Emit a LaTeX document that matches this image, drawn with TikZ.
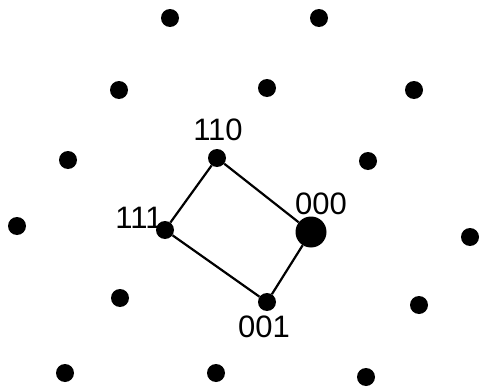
\documentclass[tikz,border=0pt]{standalone}
\usepackage{fontspec}
\setmainfont{Liberation Sans}
\usepackage{tikz}
\usetikzlibrary{positioning}

\begin{document}
\begin{tikzpicture}[
    x=1pt,y=-1pt,
    dot/.style={circle,fill=black,inner sep=0pt,minimum size=18pt},
    bigdot/.style={circle,fill=black,inner sep=0pt,minimum size=31pt},
    lbl/.style={inner sep=0pt,font=\fontsize{31}{31}\selectfont},
    edge/.style={line width=2.2pt}
]
\useasboundingbox (0,0) rectangle (480,388);
% lattice points
\foreach \x/\y [count=\i] in {170/18,319/18,
    119/90,267/88,414/90,
    68/160,368/161,
    17/226,470/237,
    120/298,419/305,
    65/373,216/373,366/377}
  \node[dot] (p\i) at (\x,\y) {};
% cell corners
\node[dot] (d110) at (217,158) {};
\node[dot] (d111) at (165,230) {};
\node[bigdot] (d000) at (311,232) {};
\node[dot] (d001) at (267,302) {};
\node[lbl] (l110) at (218,130) {110};
\node[lbl] (l111) at (139,218) {111};
\node[lbl] (l000) at (321,204) {000};
\node[lbl] (l001) at (264,327) {001};
\draw[edge] (d110) -- (d111) -- (d001) -- (d000) -- (d110);
\end{tikzpicture}
\end{document}
